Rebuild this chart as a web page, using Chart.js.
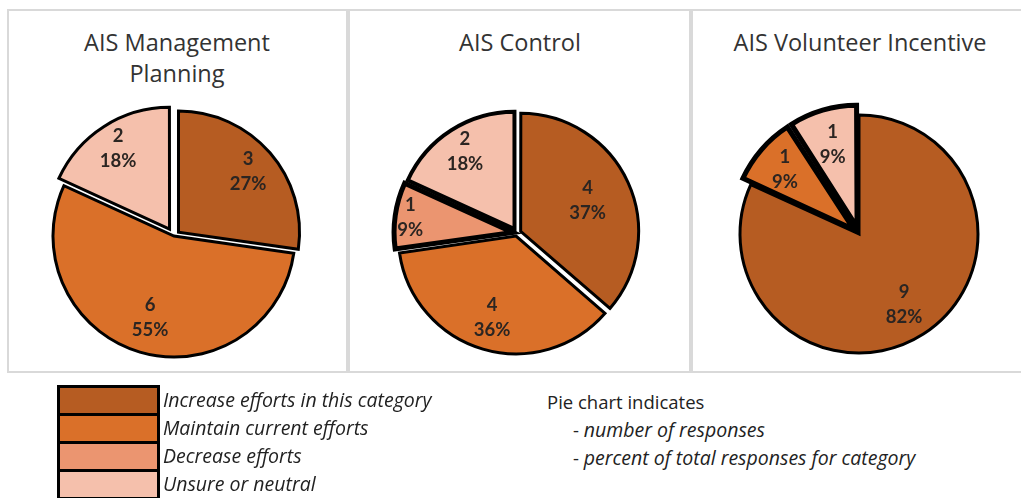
<!DOCTYPE html>
<html>
<head>
<meta charset="utf-8">
<script src="https://cdn.jsdelivr.net/npm/chart.js@4.4.1/dist/chart.umd.min.js"></script>
<style>
  html, body { margin: 0; padding: 0; background: #fff; }
  body { width: 1021px; height: 498px; position: relative; overflow: hidden; font-family: "Open Sans", Lato, sans-serif; color: #262626; }
  .panel { position: absolute; border: 2px solid #d9d9d9; box-sizing: border-box; }
  .title { position: absolute; width: 320px; text-align: center; font-size: 23.5px; line-height: 31px; color: #333; }
  canvas { position: absolute; }
  .lbox { position: absolute; left: 57px; width: 103px; height: 31px; box-sizing: border-box; border: 3px solid #000; }
  .ltext { position: absolute; left: 163px; font-size: 19.5px; font-style: italic; line-height: 28px; color: #222; white-space: nowrap; }
  .note { position: absolute; left: 547px; font-size: 18.5px; line-height: 28px; color: #222; white-space: nowrap; }
  .note i { font-style: italic; font-size: 19.5px; }
</style>
</head>
<body>
<div class="panel" style="left:7px;top:9px;width:341px;height:364px;"></div>
<div class="panel" style="left:348px;top:9px;width:343px;height:364px;"></div>
<div class="panel" style="left:691px;top:9px;width:340px;height:364px;"></div>
<div id="titles"></div>
<canvas id="c0" width="300" height="300"></canvas>
<canvas id="c1" width="300" height="300"></canvas>
<canvas id="c2" width="300" height="300"></canvas>
<div id="legend"></div>
<div class="note" style="top:388px;">Pie chart indicates</div>
<div class="note" style="top:416px;left:573px;">- <i>number of responses</i></div>
<div class="note" style="top:444px;left:573px;">- <i>percent of total responses for category</i></div>
<script>
// ---- data ----
const categories = ['Increase efforts in this category', 'Maintain current efforts', 'Decrease efforts', 'Unsure or neutral'];
const chartTitles = [['AIS Management', 'Planning'], ['AIS Control'], ['AIS Volunteer Incentive']];
const increaseCounts = [3, 4, 9];
const maintainCounts = [6, 4, 1];
const decreaseCounts = [0, 1, 0];
const unsureCounts   = [2, 2, 1];
const increasePct = ['27%', '37%', '82%'];
const maintainPct = ['55%', '36%', '9%'];
const decreasePct = ['', '9%', ''];
const unsurePct   = ['18%', '18%', '9%'];

// ---- styling / layout ----
const colors = ['#b65c22', '#da7029', '#eb9570', '#f5c0ac'];
const pies = [
  { cx: 174, cy: 236, r: 121, explode: [6, 0, 0, 9], borders: [3, 3, 0, 3], labelK: [0.76, 0.70, 0.75, 0.78] },
  { cx: 517, cy: 233, r: 117, explode: [5, 4, 6, 5], borders: [3, 3, 5, 4], labelK: [0.62, 0.72, 0.87, 0.78] },
  { cx: 859, cy: 234, r: 119, explode: [0, 10, 0, 10], borders: [3, 5, 0, 5], labelK: [0.70, 0.74, 0.75, 0.70] }
];
const titleCenters = [[177, 27], [520, 27], [860, 27]];

// titles
const tdiv = document.getElementById('titles');
chartTitles.forEach((lines, i) => {
  const d = document.createElement('div');
  d.className = 'title';
  d.style.left = (titleCenters[i][0] - 160) + 'px';
  d.style.top = titleCenters[i][1] + 'px';
  d.innerHTML = lines.join('<br>');
  tdiv.appendChild(d);
});

// legend
const ldiv = document.getElementById('legend');
categories.forEach((c, i) => {
  const b = document.createElement('div');
  b.className = 'lbox';
  b.style.top = (385 + 28 * i) + 'px';
  b.style.background = colors[i];
  ldiv.appendChild(b);
  const t = document.createElement('div');
  t.className = 'ltext';
  t.style.top = (386 + 28 * i) + 'px';
  t.textContent = c;
  ldiv.appendChild(t);
});

// Chart.js ArcElement translates by offset/4*(1+fix); invert to get a pixel explosion
function offsetFor(px, value, total) {
  if (!px || !value) return 0;
  const circ = value / total * Math.PI * 2;
  const fix = 1 - Math.sin(Math.min(Math.PI, circ));
  return px * 4 / (1 + fix);
}

const labelPlugin = {
  id: 'sliceLabels',
  afterDatasetsDraw(chart) {
    const cfg = chart.options.plugins.sliceLabels;
    const ctx = chart.ctx;
    const meta = chart.getDatasetMeta(0);
    ctx.save();
    ctx.font = 'bold 18.5px Lato, "Open Sans", sans-serif';
    ctx.fillStyle = '#2b2522';
    ctx.textAlign = 'center';
    ctx.textBaseline = 'middle';
    meta.data.forEach((arc, i) => {
      const v = chart.data.datasets[0].data[i];
      if (!v) return;
      const p = arc.getProps(['x', 'y', 'startAngle', 'endAngle', 'outerRadius'], true);
      const mid = (p.startAngle + p.endAngle) / 2;
      const d = p.outerRadius * cfg.k[i] + cfg.explode[i];
      const x = p.x + Math.cos(mid) * d;
      const y = p.y + Math.sin(mid) * d;
      ctx.fillText(String(v), x, y - 12.5);
      ctx.fillText(cfg.pct[i], x, y + 12.5);
    });
    ctx.restore();
  }
};

pies.forEach((p, i) => {
  const canvas = document.getElementById('c' + i);
  canvas.style.left = (p.cx - 150) + 'px';
  canvas.style.top = (p.cy - 150) + 'px';
  const values = [increaseCounts[i], maintainCounts[i], decreaseCounts[i], unsureCounts[i]];
  const total = values.reduce((a, b) => a + b, 0);
  new Chart(canvas, {
    type: 'pie',
    data: {
      labels: categories,
      datasets: [{
        data: values,
        backgroundColor: colors,
        borderColor: '#000',
        borderWidth: p.borders,
        borderJoinStyle: 'miter',
        offset: values.map((v, j) => offsetFor(p.explode[j], v, total))
      }]
    },
    options: {
      responsive: false,
      animation: false,
      radius: p.r,
      layout: { padding: 0 },
      events: [],
      plugins: {
        legend: { display: false },
        tooltip: { enabled: false },
        title: { display: false },
        sliceLabels: {
          k: p.labelK,
          explode: p.explode,
          pct: [increasePct[i], maintainPct[i], decreasePct[i], unsurePct[i]]
        }
      }
    },
    plugins: [labelPlugin]
  });
});
</script>
</body>
</html>
